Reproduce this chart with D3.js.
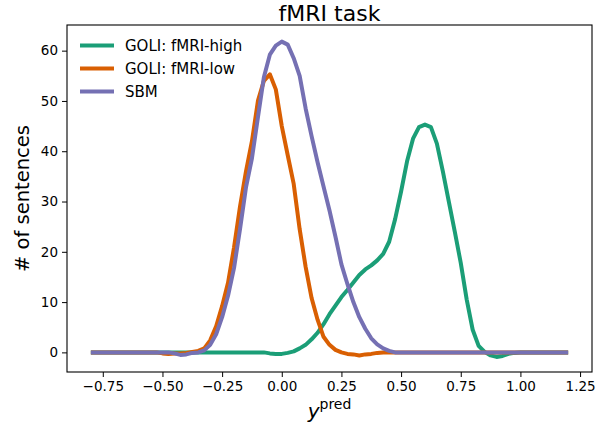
<!DOCTYPE html>
<html>
<head>
<meta charset="utf-8">
<script src="https://cdn.jsdelivr.net/npm/d3@7"></script>
<style>
  body { margin: 0; background: #fff; }
  svg { font-family: "DejaVu Sans", sans-serif; }
</style>
</head>
<body>
<svg id="chart" width="604" height="428"></svg>
<script>
// x grid of the density estimate
const xs = [-0.8, -0.775, -0.75, -0.725, -0.7, -0.675, -0.65, -0.625, -0.6, -0.575,
  -0.55, -0.525, -0.5, -0.475, -0.45, -0.425, -0.4, -0.375, -0.35, -0.325,
  -0.3, -0.275, -0.25, -0.225, -0.2, -0.175, -0.15, -0.125, -0.1, -0.075,
  -0.05, -0.025, 0, 0.025, 0.05, 0.075, 0.1, 0.125, 0.15, 0.175,
  0.2, 0.225, 0.25, 0.275, 0.3, 0.325, 0.35, 0.375, 0.4, 0.425,
  0.45, 0.475, 0.5, 0.525, 0.55, 0.575, 0.6, 0.625, 0.65, 0.675,
  0.7, 0.725, 0.75, 0.775, 0.8, 0.825, 0.85, 0.875, 0.9, 0.925,
  0.95, 0.975, 1, 1.025, 1.05, 1.075, 1.1, 1.125, 1.15, 1.175, 1.2];

const goliHigh = [0, 0, 0, 0, 0, 0, 0, 0, 0, 0,
  0, 0, 0, 0, 0, 0, 0, 0, 0, 0,
  0, 0, 0, 0, 0, 0, 0, 0, 0, 0,
  -0.2, -0.3, -0.3, -0.1, 0.2, 0.8, 1.5, 2.6, 3.9, 5.6,
  7.6, 9.3, 11, 12.4, 13.9, 15.4, 16.5, 17.3, 18.3, 19.6,
  22, 26.5, 32, 38, 42.5, 44.8, 45.3, 44.8, 41.5, 36,
  30, 24, 17.8, 10.5, 4.5, 1.3, 0.1, -0.6, -0.9, -0.7,
  -0.3, -0.1, 0, 0, 0, 0, 0, 0, 0, 0, 0];

const goliLow = [0, 0, 0, 0, 0, 0, 0, 0, 0, 0,
  0, 0, -0.2, -0.3, -0.2, -0.2, -0.1, 0.1, 0.3, 0.8,
  2.4, 5.2, 9.2, 13.9, 20.9, 29, 36, 42, 50, 54,
  55.3, 52.3, 45, 39.2, 33.5, 24.5, 17, 10.8, 6.5, 3.1,
  1.5, 0.5, 0, -0.3, -0.4, -0.6, -0.4, -0.3, -0.1, 0,
  0, 0, 0, 0, 0, 0, 0, 0, 0, 0,
  0, 0, 0, 0, 0, 0, 0, 0, 0, 0,
  0, 0, 0, 0, 0, 0, 0, 0, 0, 0, 0];

const sbm = [0, 0, 0, 0, 0, 0, 0, 0, 0, 0,
  0, 0, 0, 0, -0.2, -0.5, -0.4, -0.1, 0, 0.4,
  1.5, 3.6, 7, 11.3, 16.8, 24.5, 32.8, 38.6, 46.7, 54.7,
  59.2, 61, 61.8, 61.2, 58.5, 55, 48.5, 43, 37.8, 33,
  28.2, 23, 17.5, 13.6, 10, 7, 4.7, 2.8, 1.6, 0.8,
  0.3, 0, 0, 0, 0, 0, 0, 0, 0, 0,
  0, 0, 0, 0, 0, 0, 0, 0, 0, 0,
  0, 0, 0, 0, 0, 0, 0, 0, 0, 0, 0];

const seriesNames = ['GOLI: fMRI-high', 'GOLI: fMRI-low', 'SBM'];
const seriesColors = ['#1b9e77', '#d95f02', '#7570b3'];
const xTicks = [-0.75, -0.5, -0.25, 0, 0.25, 0.5, 0.75, 1, 1.25];
const yTicks = [0, 10, 20, 30, 40, 50, 60];

const svg = d3.select('#chart');
const margin = { left: 67, right: 12, top: 25, bottom: 56 };
const W = 604, H = 428;

const x = d3.scaleLinear().domain([-0.9, 1.3]).range([margin.left, W - margin.right]);
const y = d3.scaleLinear().domain([-3.9, 65.1]).range([H - margin.bottom, margin.top]);

const fmtMinus = (s) => s.replace('-', '\u2212');

// AXES
const xAxis = svg.append('g')
  .attr('transform', `translate(0,${H - margin.bottom})`)
  .call(d3.axisBottom(x).tickValues(xTicks).tickSize(5).tickPadding(4)
    .tickFormat((d) => fmtMinus(d3.format('.2f')(d))));
const yAxis = svg.append('g')
  .attr('transform', `translate(${margin.left},0)`)
  .call(d3.axisLeft(y).tickValues(yTicks).tickSize(5).tickPadding(4));

[xAxis, yAxis].forEach((g) => {
  g.select('.domain').remove();
  g.selectAll('text').attr('font-size', 13.5).attr('fill', '#000')
    .style('font-family', '"DejaVu Sans", sans-serif');
  g.selectAll('line').attr('stroke', '#000').attr('stroke-width', 1);
});

// LINES
const allSeries = [goliHigh, goliLow, sbm];
const line = d3.line().x((d, i) => x(xs[i])).y((d) => y(d));

svg.append('g')
  .selectAll('path')
  .data(allSeries)
  .join('path')
  .attr('d', (d) => line(d))
  .attr('fill', 'none')
  .attr('stroke', (d, i) => seriesColors[i])
  .attr('stroke-width', 4)
  .attr('stroke-linejoin', 'round');

// FRAME
svg.append('rect')
  .attr('x', margin.left).attr('y', margin.top)
  .attr('width', W - margin.left - margin.right)
  .attr('height', H - margin.top - margin.bottom)
  .attr('fill', 'none').attr('stroke', '#000').attr('stroke-width', 1.1);

// TITLE AND LABELS
const cx = (margin.left + W - margin.right) / 2;
svg.append('text')
  .attr('x', cx).attr('y', 21)
  .attr('text-anchor', 'middle').attr('font-size', 22)
  .text('fMRI task');

svg.append('text')
  .attr('transform', `translate(29,${(margin.top + H - margin.bottom) / 2}) rotate(-90)`)
  .attr('text-anchor', 'middle').attr('font-size', 19.5)
  .text('# of sentences');

const xl = svg.append('text')
  .attr('x', cx).attr('y', 418)
  .attr('text-anchor', 'middle');
xl.append('tspan').attr('font-size', 20).attr('font-style', 'italic').text('y');
xl.append('tspan').attr('font-size', 14).attr('dy', -9).text('pred');

// LEGEND
const legend = svg.append('g');
seriesNames.forEach((name, i) => {
  const ly = 45.5 + i * 23;
  legend.append('line')
    .attr('x1', 80).attr('x2', 114).attr('y1', ly).attr('y2', ly)
    .attr('stroke', seriesColors[i]).attr('stroke-width', 4);
  legend.append('text')
    .attr('x', 125).attr('y', ly).attr('dy', '0.35em')
    .attr('font-size', 15)
    .text(name);
});
</script>
</body>
</html>
